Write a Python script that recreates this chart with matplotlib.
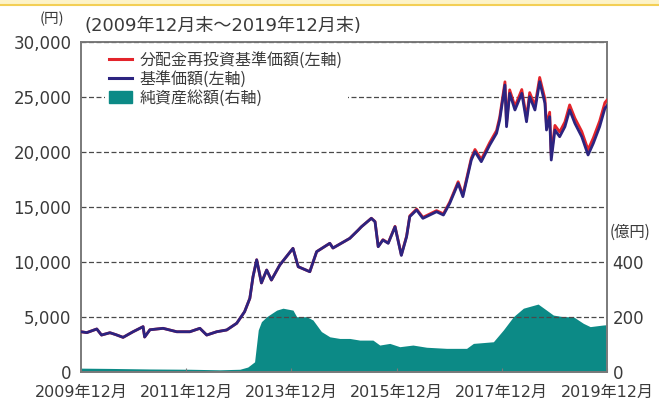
import matplotlib.pyplot as plt
from matplotlib.patches import Rectangle
from matplotlib.lines import Line2D

plt.rcParams['font.family'] = ['DejaVu Sans', 'Noto Sans CJK JP']
cjk = ['Noto Sans CJK JP', 'DejaVu Sans']

# 基準価額(左軸) — 読み取り値
t_nav = [2009.92, 2010.03, 2010.22, 2010.31, 2010.47, 2010.58, 2010.72, 2010.91,
         2011.10, 2011.13, 2011.23, 2011.48, 2011.74, 2011.99, 2012.18, 2012.31,
         2012.50, 2012.69, 2012.88, 2013.03, 2013.13, 2013.19, 2013.26, 2013.35,
         2013.45, 2013.54, 2013.70, 2013.95, 2014.05, 2014.27, 2014.40, 2014.65,
         2014.71, 2015.03, 2015.19, 2015.25, 2015.44, 2015.51, 2015.57, 2015.66,
         2015.76, 2015.89, 2016.01, 2016.11, 2016.17, 2016.30, 2016.42, 2016.68,
         2016.81, 2016.93, 2017.09, 2017.18, 2017.34, 2017.41, 2017.53, 2017.69,
         2017.82, 2017.88, 2017.98, 2018.01, 2018.07, 2018.17, 2018.30, 2018.39,
         2018.45, 2018.55, 2018.64, 2018.74, 2018.77, 2018.83, 2018.86, 2018.93,
         2019.02, 2019.12, 2019.21, 2019.31, 2019.44, 2019.56, 2019.66, 2019.78,
         2019.88, 2019.92]
nav = [3660, 3580, 3910, 3360, 3570, 3400, 3150, 3660,
       4120, 3180, 3840, 3970, 3660, 3660, 3970, 3360,
       3660, 3820, 4430, 5480, 6700, 8660, 10200, 8100,
       9270, 8360, 9730, 11240, 9570, 9120, 10940, 11700,
       11270, 12150, 12900, 13200, 13970, 13660, 11390, 12000,
       11700, 13200, 10600, 12300, 14120, 14730, 13970, 14570,
       14270, 15330, 17150, 15940, 19270, 20030, 19120, 20630,
       21700, 22900, 26090, 22300, 25330, 23820, 25330, 22750,
       25030, 23820, 26390, 24430, 22000, 23210, 19270, 22000,
       21390, 22300, 23820, 22600, 21390, 19730, 20790, 22300,
       23970, 24200]

# 分配金再投資基準価額(左軸)
nav_reinv = [3660, 3580, 3910, 3360, 3570, 3400, 3150, 3660,
             4120, 3180, 3840, 3970, 3660, 3660, 3970, 3360,
             3660, 3820, 4430, 5480, 6700, 8660, 10200, 8100,
             9270, 8360, 9730, 11240, 9570, 9120, 10940, 11700,
             11270, 12150, 12900, 13200, 13980, 13680, 11410, 12030,
             11730, 13240, 10650, 12360, 14190, 14810, 14060, 14670,
             14380, 15450, 17300, 16100, 19450, 20230, 19330, 20860,
             21950, 23170, 26380, 22600, 25650, 24150, 25680, 23100,
             25400, 24200, 26780, 24830, 22400, 23620, 19680, 22420,
             21820, 22740, 24280, 23070, 21870, 20210, 21280, 22810,
             24490, 24720]

# 純資産総額(右軸, 億円)
t_aum = [2009.92, 2010.47, 2011.23, 2011.99, 2012.56, 2012.94, 2013.09, 2013.22,
         2013.29, 2013.35, 2013.45, 2013.64, 2013.76, 2013.95, 2014.02, 2014.21,
         2014.33, 2014.49, 2014.65, 2014.84, 2015.03, 2015.22, 2015.47, 2015.60,
         2015.79, 2015.98, 2016.23, 2016.49, 2016.87, 2017.25, 2017.38, 2017.76,
         2017.95, 2018.14, 2018.33, 2018.61, 2018.77, 2018.90, 2019.09, 2019.28,
         2019.47, 2019.60, 2019.85, 2019.92]
aum = [14, 13, 11, 10, 8, 10, 18, 37,
       153, 183, 201, 225, 232, 225, 201, 201,
       189, 147, 128, 122, 122, 116, 116, 98,
       104, 92, 98, 90, 86, 86, 104, 110,
       153, 201, 232, 247, 225, 207, 201, 201,
       177, 165, 171, 172]

x_ticks = [2009.92, 2011.92, 2013.92, 2015.92, 2017.92, 2019.92]
x_labels = ['2009年12月', '2011年12月', '2013年12月', '2015年12月', '2017年12月', '2019年12月']
left_ticks = [0, 5000, 10000, 15000, 20000, 25000, 30000]
right_ticks = [0, 200, 400]

c_red = '#e3242b'
c_blue = '#2c2480'
c_teal = '#0c8a86'
c_text = '#3a3a3a'
c_spine = '#7a7a7a'

fig = plt.figure(figsize=(6.59, 4.03), dpi=100)
ax1 = fig.add_axes([81 / 659, 31 / 403, 526 / 659, 330 / 403])
ax2 = ax1.twinx()

# 純資産総額は下の層に
ax2.fill_between(t_aum, 0, aum, color=c_teal, linewidth=0)
ax2.set_ylim(0, 1200)
ax2.set_yticks(right_ticks)
ax2.set_yticklabels([f'{v:,}' for v in right_ticks])
ax1.set_zorder(ax2.get_zorder() + 1)
ax1.patch.set_visible(False)

ax1.plot(t_nav, nav_reinv, color=c_red, linewidth=2.0, zorder=3)
ax1.plot(t_nav, nav, color=c_blue, linewidth=2.0, zorder=4)

ax1.set_xlim(2009.92, 2019.92)
ax1.set_ylim(0, 30000)
ax1.set_yticks(left_ticks)
ax1.set_yticklabels([f'{v:,}' for v in left_ticks])
ax1.set_xticks(x_ticks)
ax1.set_xticklabels(x_labels)

ax1.yaxis.grid(True, linestyle=(0, (4, 2)), color='#4a4a4a', linewidth=0.9)
ax1.set_axisbelow(True)

ax1.tick_params(axis='y', length=0, pad=7, labelsize=12, labelcolor=c_text)
ax1.tick_params(axis='x', direction='in', length=3, color=c_spine, pad=9,
                labelsize=11.5, labelcolor=c_text)
ax2.tick_params(axis='y', length=0, pad=4, labelsize=12, labelcolor=c_text)
for ax in (ax1, ax2):
    for s in ax.spines.values():
        s.set_color(c_spine)
        s.set_linewidth(1.2)

handles = [Line2D([], [], color=c_red, linewidth=2.2),
           Line2D([], [], color=c_blue, linewidth=2.2),
           Rectangle((0, 0), 1, 1, color=c_teal)]
labels = ['分配金再投資基準価額(左軸)', '基準価額(左軸)', '純資産総額(右軸)']
leg = ax1.legend(handles, labels, loc='upper left', bbox_to_anchor=(0.045, 0.985),
                 prop={'family': cjk, 'size': 11.5}, frameon=True, framealpha=1,
                 facecolor='white', edgecolor='none', handlelength=1.4,
                 handletextpad=0.5, labelspacing=0.12, borderpad=0.3, borderaxespad=0)
for txt in leg.get_texts():
    txt.set_color(c_text)

fig.text(40 / 659, 1 - 19 / 403, '(円)', family=cjk, fontsize=10.5, color=c_text, va='center')
fig.text(85 / 659, 1 - 26 / 403, '(2009年12月末～2019年12月末)', fontsize=13,
         color=c_text, va='center')
fig.text(610 / 659, 1 - 232 / 403, '(億円)', family=cjk, fontsize=11, color=c_text,
         va='center')

# 上端の黄色い帯
fig.patches.append(Rectangle((0, 1 - 6 / 403), 1, 6 / 403, transform=fig.transFigure,
                             facecolor='#fdf3c8', edgecolor='none'))
fig.lines.append(Line2D([0, 1], [1 - 5 / 403, 1 - 5 / 403], transform=fig.transFigure,
                        color='#f3cf55', linewidth=1.5))

fig.savefig('out.png', dpi=100, facecolor='white')
